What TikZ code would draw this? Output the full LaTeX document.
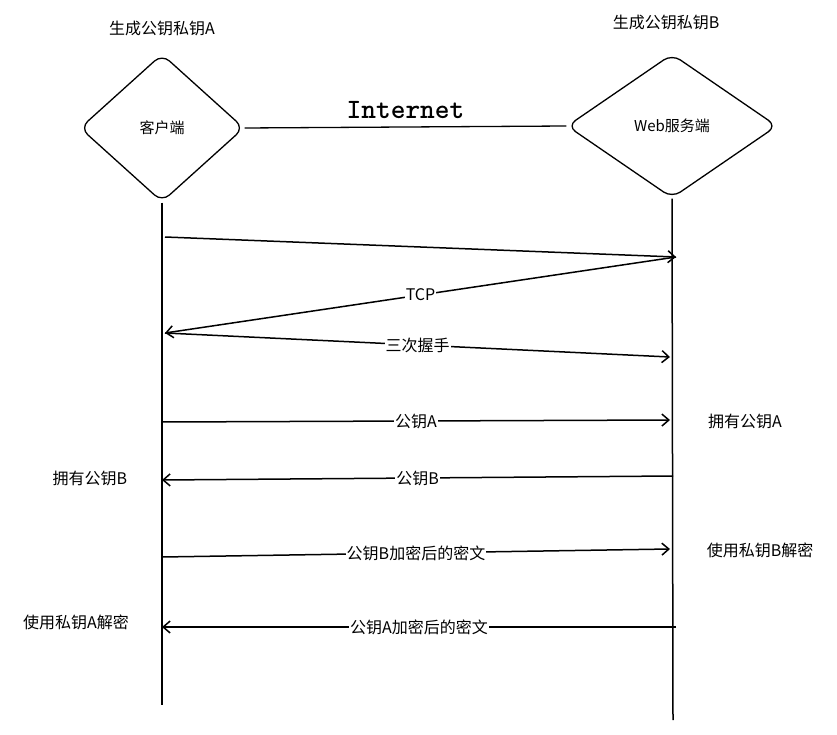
\documentclass[tikz,border=0pt]{standalone}
\usepackage{fontspec}
\setmainfont{Noto Sans CJK SC}
\usetikzlibrary{shapes.geometric,arrows.meta}
\begin{document}
\begin{tikzpicture}[x=1pt,y=-1pt,
  dia/.style={diamond,draw,line width=1.3pt,rounded corners=10pt,aspect=1.1,font=\fontsize{15}{17}\selectfont,inner sep=0pt},
  txt/.style={font=\fontsize{16}{18}\selectfont},
  lab/.style={font=\fontsize{16}{18}\selectfont,fill=white,inner sep=1pt},
  life/.style={line width=1.5pt},
  msg/.style={line width=1.5pt,-{Straight Barb[length=7pt,width=12pt]}}]
\useasboundingbox (0,0) rectangle (837,735);
\node[dia,minimum width=164pt,minimum height=148pt] (c) at (162,128) {客户端};
\node[dia,minimum width=210pt,minimum height=144pt] (s) at (672,126) {Web服务端};
\node[txt] (ka) at (162,28) {生成公钥私钥A};
\node[txt] (kb) at (666,22) {生成公钥私钥B};
\draw[line width=1.3pt] (c.east) -- node[above=4pt,font=\fontsize{28}{30}\selectfont\ttfamily\bfseries] (inet) {Internet} (s.west);
\coordinate (cb) at (162,705);
\coordinate (sb) at (673,720);
\draw[life] (c.south) -- (cb);
\draw[life] (s.south) -- (sb);
\coordinate (a1) at (165,237); \coordinate (a2) at (676,257);
\coordinate (a3) at (165,333); \coordinate (a4) at (670,357);
\draw[msg] (a1) -- (a2);
\draw[msg] (a2) -- node[lab] (tcp) {TCP} (a3);
\draw[msg] (a3) -- node[lab] (hs) {三次握手} (a4);
\coordinate (b1) at (162,422); \coordinate (b2) at (670,420);
\draw[msg] (b1) -- node[lab] (pa) {公钥A} (b2);
\node[txt] (hA) at (745,421) {拥有公钥A};
\coordinate (c1) at (673,476); \coordinate (c2) at (162,480);
\draw[msg] (c1) -- node[lab] (pb) {公钥B} (c2);
\node[txt] (hB) at (90,478) {拥有公钥B};
\coordinate (d1) at (162,557); \coordinate (d2) at (670,549);
\draw[msg] (d1) -- node[lab] (eb) {公钥B加密后的密文} (d2);
\node[txt] (dB) at (760,550) {使用私钥B解密};
\coordinate (e1) at (676,627); \coordinate (e2) at (162,627);
\draw[msg] (e1) -- node[lab] (ea) {公钥A加密后的密文} (e2);
\node[txt] (dA) at (76,622) {使用私钥A解密};
\end{tikzpicture}
\end{document}
